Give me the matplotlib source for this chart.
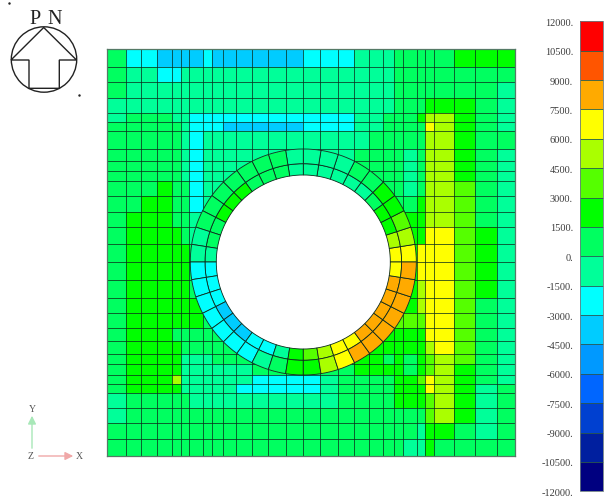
import numpy as np
import matplotlib
matplotlib.use("Agg")
import matplotlib.pyplot as plt
from matplotlib.colors import ListedColormap, BoundaryNorm
from matplotlib.patches import Wedge, Circle, Polygon

# contour levels and colours of the legend bar, low to high
levels = [-12000, -10500, -9000, -7500, -6000, -4500, -3000, -1500, 0,
          1500, 3000, 4500, 6000, 7500, 9000, 10500, 12000]
colours = ["#000080", "#001f9f", "#0040d0", "#0066ff", "#0099ff", "#00ccff", "#00ffff", "#00ff99",
           "#00ff60", "#00ff00", "#55ff00", "#aaff00", "#ffff00", "#ffaa00", "#ff5500", "#ff0000"]
tick_labels = ["-12000.", "-10500.", "-9000.", "-7500.", "-6000.", "-4500.", "-3000.", "-1500.", "0.",
               "1500.", "3000.", "4500.", "6000.", "7500.", "9000.", "10500.", "12000."]

# mesh lines in model units
x_edges = [0, 18.4, 33.7, 49.4, 64.4, 73.4, 82, 95.4, 104.4, 115.4, 128.7, 145, 160.4, 178.7, 195.4,
           212.7, 230.4, 247, 261.7, 276, 287, 296, 309.4, 317.7, 327, 347, 367.7, 389.4, 407.2]
y_edges = [407.3, 389.6, 374, 358.3, 343, 334, 325, 307, 295.6, 285.6, 275.6, 260.6, 244.6, 229, 212.3,
           194, 176.3, 158.3, 143, 128, 115, 102.3, 92.3, 81.3, 72.3, 63.3, 48, 33, 17.3, 0]

# band number of each cell, 0 is the band 0..1500, top row first
bands = [
    [0, -2, -2, -3, -3, -3, -3, -2, -3, -3, -3, -3, -3, -3, -2, -2, -2, -1, -1, -1, 0, 0, 0, 0, 0, 1, 1, 1],
    [0, -1, -1, -2, -2, -1, -1, -1, -1, -1, -1, -1, -1, -1, -1, -1, -1, -1, -1, -1, 0, 0, 0, 0, 0, 0, 0, 0],
    [0, -1, -1, -1, -1, -1, -1, -1, -1, -1, -1, -1, -1, -1, -1, -1, -1, -1, -1, -1, 0, 0, 0, 0, 0, 0, 0, -1],
    [-1, -1, -1, -1, -1, -1, -1, -1, -1, -1, -1, -1, -1, -1, -1, -1, -1, -1, -1, -1, 0, 0, 0, 1, 1, 1, 0, -1],
    [-1, 0, 0, 0, -1, -1, -2, -2, -2, -2, -2, -2, -2, -2, -2, -2, -2, -1, -1, 0, 0, 0, 1, 3, 3, 1, 0, -1],
    [0, 0, 0, 0, 0, -1, -2, -2, -2, -3, -3, -3, -3, -3, -2, -2, -2, -1, -1, 0, 0, 0, 0, 4, 3, 1, 0, -1],
    [0, 0, 0, 0, 0, -1, -2, -1, -1, -1, -1, -1, -1, -1, -1, -1, -1, -1, 0, 0, 0, 0, 0, 3, 3, 1, 0, 0],
    [0, 0, 0, 0, 0, -1, -2, -1, -1, -1, -1, -1, -1, -1, -1, -1, -1, 0, 0, 0, 0, -1, 0, 3, 3, 1, 0, -1],
    [0, 0, 0, 0, 0, -1, -2, -1, -1, -1, -1, -1, -1, -1, -1, -1, -1, 0, 0, 0, 0, -1, 0, 3, 3, 1, 0, -1],
    [0, 0, 0, 0, 0, -1, -2, -1, -1, -1, -1, -1, -1, -1, -1, -1, -1, 0, 0, 0, 0, -1, 0, 3, 3, 1, 0, -1],
    [0, 0, 0, 1, 0, 0, -2, -1, -1, -1, -1, -1, -1, -1, -1, -1, -1, 0, 0, 0, 0, -1, 0, 3, 3, 2, 0, -1],
    [0, 0, 1, 1, 0, 0, -2, -1, -1, -1, -1, -1, -1, -1, -1, -1, -1, 0, 0, 0, 0, 0, 1, 3, 3, 2, 0, -1],
    [0, 1, 1, 1, 0, 0, -1, -1, -1, -1, -1, -1, -1, -1, -1, -1, -1, 0, 0, 0, 0, 1, 1, 3, 3, 2, 0, -1],
    [0, 1, 1, 1, 1, 0, -1, -1, -1, -1, -1, -1, -1, -1, -1, -1, -1, 0, 0, 0, 0, 1, 1, 4, 4, 2, 1, -1],
    [0, 1, 1, 1, 1, 1, 0, 0, 0, 0, 0, 0, 0, 0, 0, 0, 0, 0, 0, 0, 0, 1, 4, 4, 4, 2, 1, -1],
    [0, 1, 1, 1, 1, 1, 0, 0, 0, 0, 0, 0, 0, 0, 0, 0, 0, 0, 0, 0, 0, 1, 4, 4, 4, 2, 1, -1],
    [0, 1, 1, 1, 1, 1, 0, 0, 0, 0, 0, 0, 0, 0, 0, 0, 0, 0, 0, 0, 0, 1, 3, 4, 4, 2, 1, -1],
    [0, 1, 1, 1, 1, 1, 1, 0, 0, 0, 0, 0, 0, 0, 0, 0, 0, 0, 0, 0, 0, 1, 3, 4, 4, 2, 0, -1],
    [0, 1, 1, 1, 1, 1, 1, 0, 0, 0, 0, 0, 0, 0, 0, 0, 0, 0, 0, 0, 2, 2, 2, 4, 4, 2, 0, -1],
    [0, 1, 1, 1, 0, 0, 0, 0, 0, 0, 0, 0, 0, 0, 0, 0, 0, 0, 0, 1, 1, 1, 1, 4, 4, 2, 0, -1],
    [0, 1, 1, 1, 1, 0, 0, 0, 0, 0, 0, 0, 0, 0, 0, 0, 0, 0, 1, 1, 1, 1, 1, 3, 4, 2, 0, -1],
    [0, 1, 1, 1, 1, -1, -1, -1, 0, 0, 0, 0, 0, 0, 0, 0, 0, 1, 1, 0, 1, 0, 1, 2, 3, 2, 0, -1],
    [0, 1, 1, 1, 1, -1, -1, -1, -1, -1, -1, 0, 0, 0, 0, 0, 0, 1, 1, 1, 1, 0, 1, 2, 3, 1, 0, -1],
    [0, 1, 1, 1, 3, -1, -1, -1, -1, -1, -1, -2, -2, -2, -2, -1, 0, 0, 0, 0, 1, 1, 2, 4, 3, 1, 0, -1],
    [0, 1, 1, 1, 1, -1, -1, -1, -1, -1, -2, -2, -2, -2, -2, -1, 0, 0, 0, 0, 1, 1, 1, 4, 3, 1, -1, 0],
    [-1, 0, 0, 0, 0, 0, -1, -1, -1, -1, -1, -1, -1, -1, -1, -1, 0, 0, 0, 0, 1, 1, 1, 2, 3, 1, -1, 0],
    [-1, 0, 0, 0, 0, 0, 0, 0, 0, 0, 0, 0, 0, 0, 0, 0, 0, 0, 0, 0, 0, 0, 0, 2, 3, 1, -1, 0],
    [0, 0, 0, 0, 0, 0, 0, 0, 0, 0, 0, 0, 0, 0, 0, 0, 0, 0, 0, 0, 0, 0, -1, 1, 1, 0, -1, 0],
    [0, 0, 0, 0, 0, 0, 0, 0, 0, 0, 0, 0, 0, 0, 0, 0, 0, 0, 0, 0, 0, -1, -1, 1, 0, 0, 0, 0],
]

# ring round the hole, 9 degree sectors counter clockwise from +x
ring_outer = [4, 3, 2, 1, 1, 0, 0, -1, -1, -1, -1, 0, 0, 0, 0, 0, 0, 0, -1, -1,
              -2, -2, -2, -2, -2, -2, -2, -1, 0, 1, 1, 3, 4, 5, 5, 5, 5, 5, 5, 5]
ring_inner = [4, 3, 1, 1, 0, -1, -1, -1, -1, -1, -1, 0, 0, 0, 1, 1, 1, 0, 0, -1,
              -2, -2, -2, -3, -3, -3, -2, -2, -1, 1, 2, 3, 4, 4, 5, 5, 5, 5, 5, 4]
hole_centre = (196, 194.3)
ring_radii = [87, 98.3, 113]

W, H = 605, 502
fig = plt.figure(figsize=(W / 100, H / 100), dpi=100, facecolor="white")
line_col = "#0c2a1c"

cmap = ListedColormap(colours)
norm = BoundaryNorm(levels, cmap.N)

ax = fig.add_axes([107.3 / W, 1 - 457.3 / H, 407.2 / W, 407.3 / H])
stress = (np.array(bands) + 0.5) * 1500
ax.pcolormesh(x_edges, y_edges, stress, cmap=cmap, norm=norm, linewidth=0, rasterized=True)
ax.vlines(x_edges, 0, 407.3, color=line_col, lw=0.7, alpha=0.75, zorder=1.5)
ax.hlines(y_edges, 0, 407.2, color=line_col, lw=0.7, alpha=0.75, zorder=1.5)
ax.add_patch(Circle(hole_centre, ring_radii[2], fc="white", ec="none", zorder=2))
for i in range(40):
    ang = 9 * i
    ax.add_patch(Wedge(hole_centre, ring_radii[1], ang, ang + 9, width=ring_radii[1] - ring_radii[0],
                       fc=cmap(norm((ring_inner[i] + 0.5) * 1500)), ec=line_col, lw=0.6, zorder=3))
    ax.add_patch(Wedge(hole_centre, ring_radii[2], ang, ang + 9, width=ring_radii[2] - ring_radii[1],
                       fc=cmap(norm((ring_outer[i] + 0.5) * 1500)), ec=line_col, lw=0.6, zorder=3))
ax.set_xlim(0, 407.2)
ax.set_ylim(0, 407.3)
ax.set_xticks([])
ax.set_yticks([])
for s in ax.spines.values():
    s.set_color("#557a66")
    s.set_linewidth(0.9)

# legend bar with labels on the left
cax = fig.add_axes([580 / W, 1 - 492.3 / H, 22.7 / W, 470 / H])
cb = fig.colorbar(plt.cm.ScalarMappable(norm=norm, cmap=cmap), cax=cax, ticks=levels, spacing="uniform",
                  drawedges=True)
cb.ax.yaxis.set_ticks_position("left")
cb.ax.set_yticklabels(tick_labels, family="Liberation Serif", fontsize=7.5, color="#3c3c3c")
cb.ax.tick_params(length=0, pad=5)
cb.outline.set_edgecolor("#6a7a80")
cb.outline.set_linewidth(0.6)
cb.dividers.set_color("#2a5a50")
cb.dividers.set_linewidth(0.6)

# overlay in pixels for the direction symbol and the axes triad
ov = fig.add_axes([0, 0, 1, 1])
ov.set_xlim(0, W)
ov.set_ylim(H, 0)
ov.axis("off")
ov.patch.set_alpha(0)
ov.add_patch(Circle((44, 60.5), 32.7, fc="none", ec="#222222", lw=1.0))
ov.add_patch(Polygon([(43.7, 28.5), (11, 61), (29, 61), (29, 89.3), (59.3, 89.3), (59.3, 61), (76.5, 61)],
                     closed=True, fc="none", ec="#222222", lw=1.0))
ov.text(35, 19, "P", family="Liberation Serif", fontsize=14.5, ha="center", va="center", color="#222222")
ov.text(54.5, 19, "N", family="Liberation Serif", fontsize=14.5, ha="center", va="center", color="#222222")
ov.plot([9, 79], [4, 96], ls="none", marker=".", ms=1.5, color="#222222")

ov.annotate("", xy=(32, 414), xytext=(32, 452), arrowprops=dict(arrowstyle="-|>", color="#a8e8b8", lw=1.0, mutation_scale=12))
ov.annotate("", xy=(76, 457), xytext=(36, 457), arrowprops=dict(arrowstyle="-|>", color="#f0a8a8", lw=1.0, mutation_scale=12))
ov.text(32, 410, "Y", family="Liberation Serif", fontsize=7, ha="center", va="center", color="#555555")
ov.text(31, 457, "Z", family="Liberation Serif", fontsize=7, ha="center", va="center", color="#555555")
ov.text(79, 457, "X", family="Liberation Serif", fontsize=7, ha="center", va="center", color="#555555")

fig.savefig("out.png", dpi=100)
